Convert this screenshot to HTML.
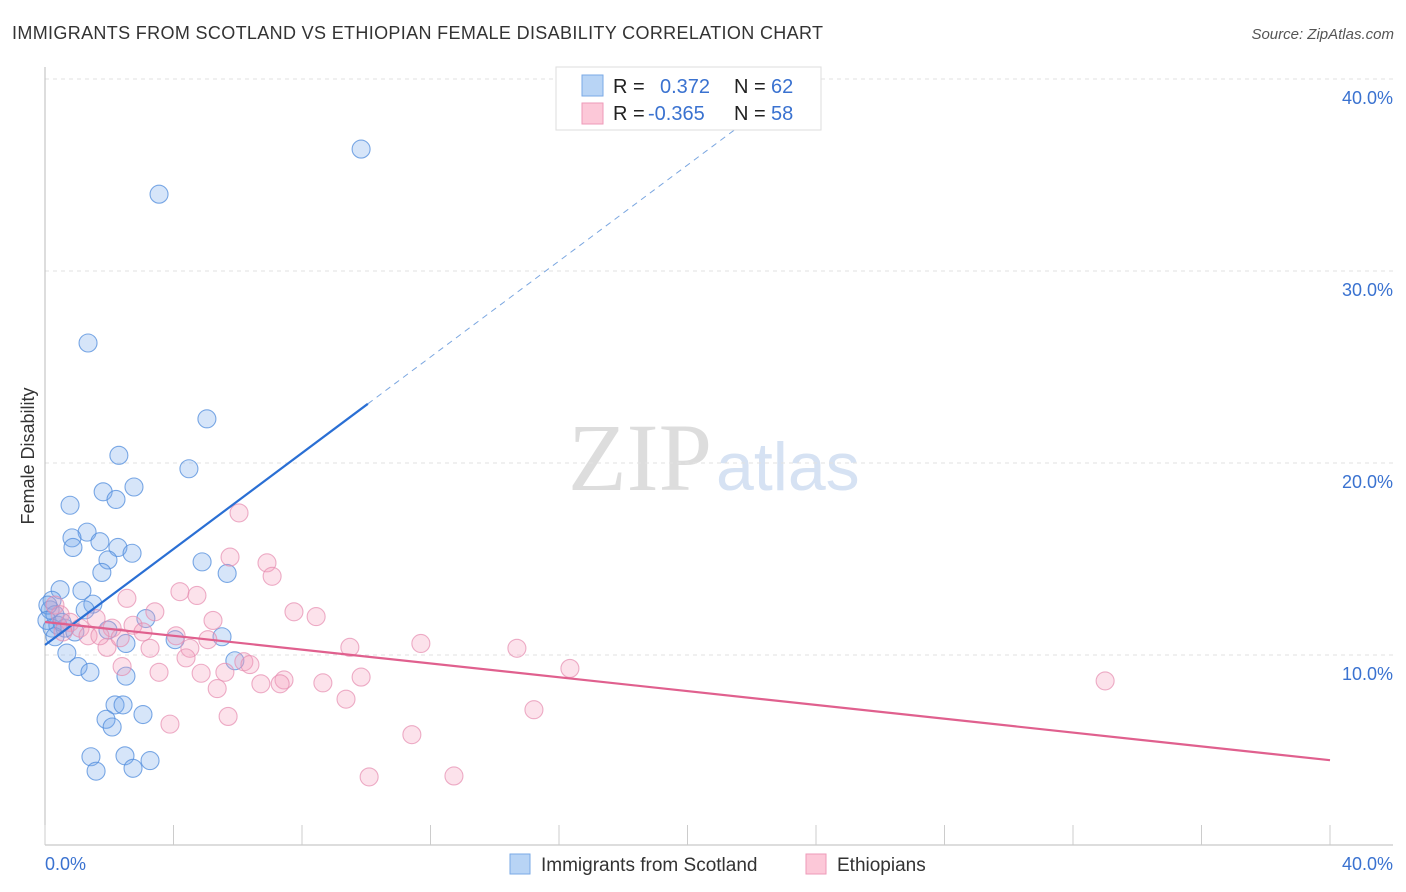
<!DOCTYPE html>
<html><head><meta charset="utf-8"><style>
body{margin:0;background:#fff;font-family:"Liberation Sans",sans-serif}
svg{display:block}
</style></head><body>
<svg id="c" width="1406" height="892" xmlns="http://www.w3.org/2000/svg">
<text x="12" y="39" font-size="18" fill="#333" textLength="811">IMMIGRANTS FROM SCOTLAND VS ETHIOPIAN FEMALE DISABILITY CORRELATION CHART</text>
<text x="1394" y="39" font-size="15" fill="#555" font-style="italic" text-anchor="end">Source: ZipAtlas.com</text>
<text x="34" y="456" font-size="18" fill="#333" text-anchor="middle" transform="rotate(-90 34 456)">Female Disability</text>
<text x="712" y="490" font-size="96" font-family="Liberation Serif,serif" fill="#ddd" text-anchor="end">ZIP</text>
<text x="716" y="490" font-size="68" fill="#d6e2f3">atlas</text>
<g id="grid"></g><g id="axes"></g><g id="pts"></g><g id="lines"></g>
<g>
<rect x="556" y="67" width="265" height="63" fill="#fff" stroke="#ddd"/>
<rect x="582" y="75" width="21" height="21" fill="#b8d4f5" stroke="#7aaae6"/>
<rect x="582" y="103" width="21" height="21" fill="#fcc8d8" stroke="#ee9ab8"/>
<text x="613" y="93" font-size="20" fill="#222">R =</text><text x="660" y="93" font-size="20" fill="#3a72d0">0.372</text>
<text x="734" y="93" font-size="20" fill="#222">N =</text><text x="771" y="93" font-size="20" fill="#3a72d0">62</text>
<text x="613" y="120" font-size="20" fill="#222">R =</text><text x="648" y="120" font-size="20" fill="#3a72d0">-0.365</text>
<text x="734" y="120" font-size="20" fill="#222">N =</text><text x="771" y="120" font-size="20" fill="#3a72d0">58</text>
</g>
<g>
<rect x="510" y="854" width="20" height="20" fill="#b8d4f5" stroke="#7aaae6"/>
<text x="541" y="871" font-size="19" fill="#333">Immigrants from Scotland</text>
<rect x="806" y="854" width="20" height="20" fill="#fcc8d8" stroke="#ee9ab8"/>
<text x="837" y="871" font-size="19" fill="#333">Ethiopians</text>
</g>
</svg>
<script>
const NS='http://www.w3.org/2000/svg';
const yTicks=[10,20,30,40];
const xTickLabels=['0.0%','40.0%'];
const blueX=[9.84,3.55,1.34,5.04,2.30,4.48,2.77,1.81,2.21,0.78,1.31,0.84,1.71,0.87,2.27,2.71,1.96,4.89,1.77,5.67,0.47,1.15,1.49,1.25,0.22,0.16,0.31,3.14,0.40,0.62,0.93,1.96,4.05,5.51,2.52,0.68,1.03,5.91,1.40,2.52,2.18,2.43,3.05,1.90,2.09,1.43,2.49,3.27,1.59,2.74,0.09,0.06,0.22,0.53,0.31];
const blueY=[36.35,34.0,26.25,22.3,20.4,19.7,18.75,18.5,18.1,17.8,16.4,16.1,15.9,15.6,15.6,15.3,14.95,14.85,14.3,14.25,13.4,13.35,12.65,12.35,12.85,12.35,12.1,11.9,11.55,11.4,11.2,11.3,10.8,10.95,10.6,10.1,9.4,9.7,9.1,8.9,7.4,7.4,6.9,6.65,6.25,4.7,4.75,4.5,3.95,4.1,12.6,11.8,11.4,11.7,10.95];
const pinkX=[6.04,5.76,6.91,7.07,4.20,4.73,2.55,7.75,3.42,8.44,5.23,1.59,2.09,2.74,3.05,4.08,5.07,11.70,9.49,14.69,3.27,4.51,1.93,4.39,6.19,6.38,2.40,16.34,3.55,4.86,5.60,7.44,9.84,33.0,6.72,7.32,8.65,5.36,9.37,15.22,5.70,3.89,11.42,10.09,12.73,0.31,0.47,0.78,1.09,1.34,0.56,2.34,1.71];
const pinkY=[17.4,15.1,14.8,14.1,13.3,13.1,12.95,12.25,12.25,12.0,11.8,11.9,11.4,11.55,11.2,11.0,10.8,10.6,10.4,10.35,10.35,10.35,10.4,9.85,9.65,9.5,9.4,9.3,9.1,9.05,9.1,8.7,8.85,8.65,8.5,8.5,8.55,8.25,7.7,7.15,6.8,6.4,5.85,3.65,3.7,12.6,12.1,11.7,11.4,11.0,11.2,10.9,11.0];
const blueTrend=[10.52,1.25];
const pinkTrend=[11.72,-0.18];
const sx=v=>45+v*1285/40, sy=v=>847-v*19.2;
function el(t,a,p){const e=document.createElementNS(NS,t);for(const k in a)e.setAttribute(k,a[k]);p.appendChild(e);return e;}
const g=document.getElementById('grid'),ax=document.getElementById('axes'),pt=document.getElementById('pts'),ln=document.getElementById('lines');
yTicks.forEach(t=>{
 const l=el('line',{x1:45,x2:1393,y1:sy(t),y2:sy(t),stroke:'#e2e2e2','stroke-dasharray':'4 4'},g);
 
 
 const tx=el('text',{x:1393,y:sy(t)+25,'font-size':18,fill:'#3a72d0','text-anchor':'end'},ax);
 tx.textContent=t.toFixed(1)+'%';
 
 
});
el('line',{x1:45,x2:45,y1:67,y2:845,stroke:'#bbb'},ax);
const xa=el('line',{x1:45,x2:1393,y1:845,y2:845,stroke:'#bbb'},ax);


for(let i=0;i<=10;i++){el('line',{x1:sx(i*4),x2:sx(i*4),y1:825,y2:845,stroke:'#ccc'},ax);}
[[0,'start',45],[1,'end',1393]].forEach(([i,a,x])=>{
 const t=el('text',{x:x,y:870,'font-size':18,fill:'#3a72d0','text-anchor':a},ax);
 t.textContent=xTickLabels[i];
 
 
});
blueX.forEach((x,i)=>{
 const c=el('circle',{cx:sx(x),cy:sy(blueY[i]),r:9,fill:'rgba(120,170,235,0.3)',stroke:'rgba(80,140,220,0.75)','stroke-width':1.1},pt);
 
 
});
pinkX.forEach((x,i)=>{
 const c=el('circle',{cx:sx(x),cy:sy(pinkY[i]),r:9,fill:'rgba(245,160,188,0.3)',stroke:'rgba(230,140,175,0.7)','stroke-width':1.1},pt);
 
 
});
const bf=v=>blueTrend[0]+blueTrend[1]*v;
const b1=el('line',{x1:sx(0),y1:sy(bf(0)),x2:sx(10.05),y2:sy(bf(10.05)),stroke:'#2a6fd4','stroke-width':2.2},ln);


const b2=el('line',{x1:sx(10.05),y1:sy(bf(10.05)),x2:sx(22.5),y2:sy(bf(22.5)),stroke:'#7aa6e0','stroke-width':1,'stroke-dasharray':'6 5'},ln);


const pf=v=>pinkTrend[0]+pinkTrend[1]*v;
const p1=el('line',{x1:sx(0),y1:sy(pf(0)),x2:sx(40),y2:sy(pf(40)),stroke:'#e0608e','stroke-width':2.2},ln);


</script>
</body></html>
